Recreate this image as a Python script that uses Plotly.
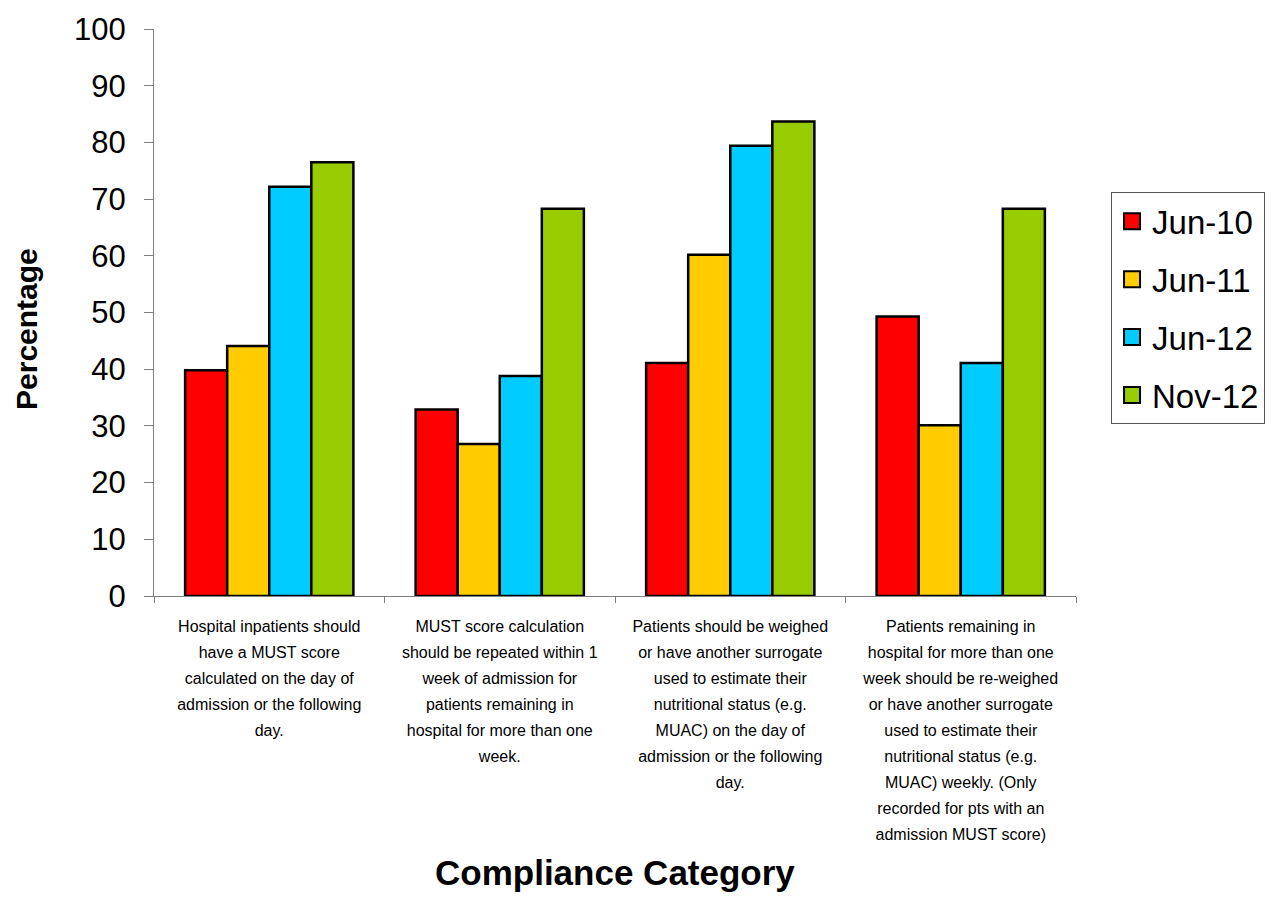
import plotly.graph_objects as go

categories_lines = [
    ["Hospital inpatients should", "have a MUST score", "calculated on the day of",
     "admission or the following", "day."],
    ["MUST score calculation", "should be repeated within 1", "week of admission for",
     "patients remaining in", "hospital for more than one", "week."],
    ["Patients should be weighed", "or have another surrogate", "used to estimate their",
     "nutritional status (e.g.", "MUAC) on the day of", "admission or the following", "day."],
    ["Patients remaining in", "hospital for more than one", "week should be re-weighed",
     "or have another surrogate", "used to estimate their", "nutritional status (e.g.",
     "MUAC) weekly. (Only", "recorded for pts with an", "admission MUST score)"],
]
categories = [" ".join(l) for l in categories_lines]

series_names = ["Jun-10", "Jun-11", "Jun-12", "Nov-12"]
jun10 = [39.8, 32.9, 41.1, 49.3]
jun11 = [44.1, 26.8, 60.2, 30.1]
jun12 = [72.2, 38.8, 79.4, 41.1]
nov12 = [76.5, 68.3, 83.7, 68.3]
series_values = [jun10, jun11, jun12, nov12]
colors = ["#FF0000", "#FFCC00", "#00CCFF", "#99CC00"]

y_ticks = list(range(0, 101, 10))

FONT = "Liberation Sans, Arial, sans-serif"

fig = go.Figure()
for name, vals, col in zip(series_names, series_values, colors):
    fig.add_trace(go.Bar(
        x=categories, y=vals, name=name, showlegend=False,
        marker=dict(color=col, line=dict(color="black", width=2.5)),
    ))
for i, (name, col) in enumerate(zip(series_names, colors)):
    fig.add_trace(go.Scatter(
        x=[categories[0]], y=[None], mode="markers", name=name,
        legendgroup=f"g{i}",
        marker=dict(symbol="square", size=16, color=col, line=dict(color="black", width=2)),
    ))

ticktext = ["<br>".join(f"<span style='font-size:16px'>{ln}</span>" for ln in lines)
            for lines in categories_lines]

fig.update_layout(
    width=1288, height=918,
    margin=dict(l=154, r=212, t=27, b=322),
    paper_bgcolor="white", plot_bgcolor="white",
    font=dict(family=FONT, color="black"),
    barmode="group", bargap=0.27, bargroupgap=0,
    showlegend=True,
    legend=dict(
        x=1.038, y=0.712, xanchor="left", yanchor="top",
        bordercolor="#555555", borderwidth=1,
        font=dict(size=33, family=FONT),
        tracegroupgap=12, itemsizing="trace",
    ),
    xaxis=dict(
        type="category", tickson="boundaries",
        ticks="outside", ticklen=6, tickcolor="#808080",
        showline=True, linecolor="#808080", linewidth=1,
        tickmode="array", tickvals=categories, ticktext=ticktext,
        tickfont=dict(size=20, family=FONT), ticklabelstandoff=11,
        showgrid=False, fixedrange=True,
    ),
    yaxis=dict(
        range=[0, 100], tickvals=y_ticks,
        ticks="outside", ticklen=9, tickcolor="#808080",
        showline=True, linecolor="#808080", linewidth=1,
        tickfont=dict(size=31, family=FONT), ticklabelstandoff=12,
        showgrid=False, zeroline=False,
    ),
    annotations=[
        dict(text="<b>Percentage</b>", textangle=-90, xref="paper", yref="paper",
             x=-0.1377, y=0.471, xanchor="center", yanchor="middle", showarrow=False,
             font=dict(size=30, family=FONT)),
        dict(text="<b>Compliance Category</b>", xref="paper", yref="paper",
             x=0.5, y=-0.487, xanchor="center", yanchor="middle", showarrow=False,
             font=dict(size=35, family=FONT)),
    ],
)

fig.write_html("out.html")
